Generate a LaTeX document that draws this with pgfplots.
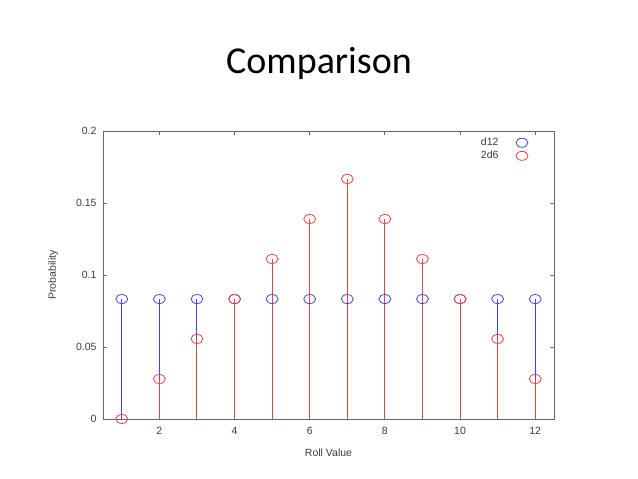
\documentclass[border=0pt]{standalone}
\usepackage{pgfplots}
\pgfplotsset{compat=1.18}
\usepackage{fontspec}
\setmainfont{Liberation Sans}
\newfontfamily\titlefont{Carlito}

\definecolor{dblue}{RGB}{70,70,225}
\definecolor{dred}{RGB}{225,70,70}
\definecolor{txt}{RGB}{60,60,60}

% d12 and 2d6 probabilities, as plotted
\pgfplotstableread{
x  p
1  0.0833
2  0.0833
3  0.0833
4  0.0833
5  0.0833
6  0.0833
7  0.0833
8  0.0833
9  0.0833
10 0.0833
11 0.0833
12 0.0833
}\dtwelve
\pgfplotstableread{
x  p
1  0
2  0.0278
3  0.0556
4  0.0833
5  0.1111
6  0.1389
7  0.1667
8  0.1389
9  0.1111
10 0.0833
11 0.0556
12 0.0278
}\twodsix

\begin{document}
\begin{tikzpicture}[x=1pt,y=1pt]
  \fill[white] (0,0) rectangle (638,479);
  \node[font=\titlefont\fontsize{38}{44}\selectfont, anchor=center] at (319,416) {Comparison};
  \begin{axis}[
    at={(103pt,60pt)}, anchor=south west,
    scale only axis,
    width=451pt, height=288pt,
    xmin=0.5, xmax=12.5,
    ymin=0, ymax=0.2,
    xtick={2,4,6,8,10,12},
    xticklabels={2,4,6,8,10,12},
    ytick={0,0.05,0.1,0.15,0.2},
    yticklabels={0,0.05,0.1,0.15,0.2},
    tick align=inside,
    major tick length=4pt,
    axis line style={gray!80!black, line width=0.8pt},
    tick style={gray!80!black, line width=0.8pt},
    ticklabel style={font=\fontsize{10.5}{12}\selectfont, text=txt},
    xticklabel style={yshift=-5pt},
    yticklabel style={xshift=-3pt},
    xlabel={Roll Value},
    ylabel={Probability},
    label style={font=\fontsize{10.5}{12}\selectfont, text=txt},
    xlabel style={yshift=-7pt},
    ylabel style={yshift=11pt},
    legend style={draw=none, fill=none, at={(1,1)}, xshift=-21.5pt, yshift=-3pt,
      anchor=north east, font=\fontsize{10.5}{12}\selectfont, text=txt,
      row sep=0pt},
    legend image code/.code={\path (0cm,0cm) (1cm,0cm); \draw[#1] plot coordinates {(0.75cm,0cm)};},
    legend plot pos=right,
    legend cell align=right,
    clip=false,
  ]
    \addplot[ycomb, draw=dblue, line width=1pt, forget plot] table[x=x,y=p] {\dtwelve};
    \addplot[ycomb, draw=dred, line width=1pt, forget plot] table[x=x,y=p] {\twodsix};
    \addplot[only marks, mark=o, color=dblue, mark size=4.5pt, mark options={xscale=1.33, line width=0.8pt}] table[x=x,y=p] {\dtwelve};
    \addlegendentry{d12}
    \addplot[only marks, mark=o, color=dred, mark size=4.5pt, mark options={xscale=1.33, line width=0.8pt}] table[x=x,y=p] {\twodsix};
    \addlegendentry{2d6}
  \end{axis}
\end{tikzpicture}
\end{document}
